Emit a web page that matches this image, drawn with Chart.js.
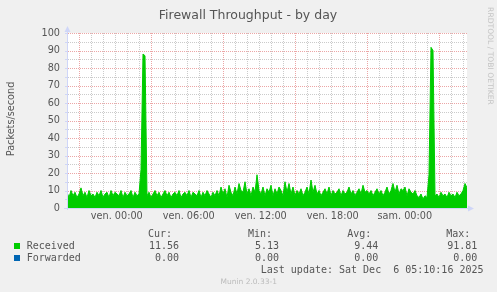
<!DOCTYPE html>
<html>
<head>
<meta charset="utf-8">
<script src="https://cdn.jsdelivr.net/npm/chart.js@4/dist/chart.umd.min.js"></script>
<style>
  body { margin: 0; background: #F0F0F0; }
  #wrap { width: 497px; height: 292px; }
</style>
</head>
<body>
<div id="wrap"><canvas id="munin"></canvas></div>
<script>
// time axis: hours relative to "ven. 00:00", one value every 10 minutes
var startHour = -4.15;
var stepMinutes = 10;
var xLabels = ["ven. 00:00", "ven. 06:00", "ven. 12:00", "ven. 18:00", "sam. 00:00"];
var labelHours = [0, 6, 12, 18, 24];

// packets/second
var received = [
  9, 6, 10, 7, 9, 6, 8, 11.5, 7, 9, 6, 10, 7, 8, 6, 9, 7, 10, 6, 8, 9, 6, 10, 7, 9, 8,
  7, 10, 6, 9, 7, 8, 10, 6, 9, 7, 8,
  22, 88, 87, 7,
  9, 6, 8, 10, 7, 9, 6, 8, 10, 7, 9, 6, 8, 9, 7, 10, 6, 8, 9, 7, 10, 6, 9, 8, 7, 10, 6, 9, 7, 10, 8, 6, 9, 7,
  10, 7, 12, 8, 11, 6, 13, 9, 7, 12, 8, 14, 10, 9, 15, 8, 11, 7, 12, 9, 19, 10, 8, 12, 7, 11,
  9, 13, 7, 11, 8, 12, 10, 7, 15, 9, 14, 8, 12, 7, 10, 8, 11, 7, 9, 12, 8, 16, 9, 13, 8,
  10, 7, 9, 11, 8, 12, 7, 10, 8, 9, 11, 7, 10, 8, 9, 12, 8, 10, 7, 9, 11, 8, 13, 9, 10,
  8, 10, 7, 9, 11, 8, 10, 7, 9, 12, 8, 10, 14, 9, 13, 8, 11, 10, 12, 7, 11, 9, 8, 10, 7,
  6, 8, 5.13, 7, 6,
  19, 91.81, 90, 7,
  8, 6, 9, 7, 8, 6, 9, 7, 8, 6, 9, 7, 8, 10, 14, 11.56
];
var forwarded = [
  0, 0, 0, 0, 0, 0, 0, 0, 0, 0, 0, 0, 0, 0, 0, 0, 0, 0, 0, 0, 0, 0, 0, 0, 0, 0, 0, 0, 0, 0, 0, 0, 0, 0, 0, 0, 0, 0, 0, 0,
  0, 0, 0, 0, 0, 0, 0, 0, 0, 0, 0, 0, 0, 0, 0, 0, 0, 0, 0, 0, 0, 0, 0, 0, 0, 0, 0, 0, 0, 0, 0, 0, 0, 0, 0, 0, 0, 0, 0, 0,
  0, 0, 0, 0, 0, 0, 0, 0, 0, 0, 0, 0, 0, 0, 0, 0, 0, 0, 0, 0, 0, 0, 0, 0, 0, 0, 0, 0, 0, 0, 0, 0, 0, 0, 0, 0, 0, 0, 0, 0,
  0, 0, 0, 0, 0, 0, 0, 0, 0, 0, 0, 0, 0, 0, 0, 0, 0, 0, 0, 0, 0, 0, 0, 0, 0, 0, 0, 0, 0, 0, 0, 0, 0, 0, 0, 0, 0, 0, 0, 0,
  0, 0, 0, 0, 0, 0, 0, 0, 0, 0, 0, 0, 0, 0, 0, 0, 0, 0, 0, 0, 0, 0, 0, 0, 0, 0, 0, 0, 0, 0, 0, 0, 0, 0, 0, 0, 0, 0, 0, 0,
  0
];

// legend table
var statHeaders = ["Cur:", "Min:", "Avg:", "Max:"];
var receivedStats = ["11.56", "5.13", "9.44", "91.81"];
var forwardedStats = ["0.00", "0.00", "0.00", "0.00"];
var lastUpdate = "Last update: Sat Dec  6 05:10:16 2025";

var endHour = startHour + (received.length - 1) * stepMinutes / 60;

function toPoints(values) {
  return values.map(function (v, i) {
    return { x: startHour + i * stepMinutes / 60, y: v };
  });
}

var GREY = "#555555";
var MINOR = "#CBCBCB";
var MAJOR = "#ECA6A6";
var AXIS = "#CFD6F8";

// dotted rrdtool-style grid, 1px on / 1px off
function dotRow(ctx, y, x0, x1) {
  for (var x = x0; x < x1; x += 2) ctx.fillRect(x, y, 1, 1);
}
function dotCol(ctx, x, y0, y1) {
  for (var y = y1; y > y0; y -= 2) ctx.fillRect(x, y, 1, 1);
}

var muninPlugin = {
  id: "munin",
  beforeDraw: function (chart) {
    var ctx = chart.ctx, a = chart.chartArea;
    ctx.save();
    ctx.fillStyle = "#F0F0F0";
    ctx.fillRect(0, 0, chart.width, chart.height);
    ctx.fillStyle = "#FFFFFF";
    ctx.fillRect(a.left, a.top, a.right - a.left, a.bottom - a.top);
    ctx.restore();
  },
  beforeDatasetsDraw: function (chart) {
    var ctx = chart.ctx, a = chart.chartArea;
    var xs = chart.scales.x, ys = chart.scales.y;
    ctx.save();
    // horizontal lines every 5, red every 10
    for (var v = 5; v <= 100; v += 5) {
      var py = Math.round(ys.getPixelForValue(v));
      ctx.fillStyle = v % 10 === 0 ? MAJOR : MINOR;
      dotRow(ctx, py, a.left + 1, a.right);
      ctx.fillStyle = AXIS;
      ctx.fillRect(a.left - 2, py, 2, 1);
    }
    // vertical lines every hour, red every 6 hours
    for (var k = 1; startHour + k <= endHour; k++) {
      var px = Math.round(xs.getPixelForValue(startHour + k));
      ctx.fillStyle = k % 6 === 1 ? MAJOR : MINOR;
      dotCol(ctx, px, a.top - 1, a.bottom - 1);
    }
    ctx.restore();
  },
  afterDraw: function (chart) {
    var ctx = chart.ctx, a = chart.chartArea;
    ctx.save();

    // axes with arrows
    ctx.strokeStyle = AXIS;
    ctx.fillStyle = AXIS;
    ctx.lineWidth = 1;
    ctx.beginPath();
    ctx.moveTo(a.left + 0.5, a.bottom + 2);
    ctx.lineTo(a.left + 0.5, a.top - 3);
    ctx.moveTo(a.left - 3, a.bottom + 0.5);
    ctx.lineTo(a.right + 3, a.bottom + 0.5);
    ctx.stroke();
    ctx.beginPath();
    ctx.moveTo(a.left + 0.5, a.top - 7);
    ctx.lineTo(a.left - 2.5, a.top - 1);
    ctx.lineTo(a.left + 3.5, a.top - 1);
    ctx.fill();
    ctx.beginPath();
    ctx.moveTo(a.right + 7, a.bottom + 0.5);
    ctx.lineTo(a.right + 1, a.bottom - 2.5);
    ctx.lineTo(a.right + 1, a.bottom + 3.5);
    ctx.fill();

    // title
    ctx.fillStyle = GREY;
    ctx.font = '12.5px "DejaVu Sans"';
    ctx.textAlign = "center";
    ctx.textBaseline = "alphabetic";
    ctx.fillText("Firewall Throughput - by day", 248, 18.5);

    // y axis title
    ctx.save();
    ctx.translate(11, 119);
    ctx.rotate(-Math.PI / 2);
    ctx.font = '9.7px "DejaVu Sans"';
    ctx.textBaseline = "middle";
    ctx.fillText("Packets/second", 0, 0);
    ctx.restore();

    // watermark
    ctx.save();
    ctx.translate(490, 56);
    ctx.rotate(Math.PI / 2);
    ctx.fillStyle = "#C4C4C4";
    ctx.font = '7.6px "DejaVu Sans"';
    ctx.textBaseline = "middle";
    ctx.fillText("RRDTOOL / TOBI OETIKER", 0, 0);
    ctx.restore();

    // legend
    var colRight = [179, 279, 378.3, 477.3];
    ctx.font = '10px "DejaVu Sans Mono"';
    ctx.fillStyle = GREY;
    ctx.textAlign = "right";
    statHeaders.forEach(function (h, i) {
      ctx.fillText(h, colRight[i] - 7, 236.7);
    });
    receivedStats.forEach(function (s, i) {
      ctx.fillText(s, colRight[i], 249);
    });
    forwardedStats.forEach(function (s, i) {
      ctx.fillText(s, colRight[i], 261);
    });
    ctx.fillText(lastUpdate, 483.5, 273.3);
    ctx.textAlign = "left";
    ctx.fillText("Received", 26.7, 249);
    ctx.fillText("Forwarded", 26.7, 261);
    ctx.fillStyle = "#00CC00";
    ctx.fillRect(14, 243, 6, 6);
    ctx.fillStyle = "#0066B3";
    ctx.fillRect(14, 255, 6, 6);

    ctx.fillStyle = "#BBBBBB";
    ctx.font = '7.5px "DejaVu Sans"';
    ctx.textAlign = "center";
    ctx.fillText("Munin 2.0.33-1", 248.7, 284.3);
    ctx.restore();
  }
};

Chart.defaults.font.family = '"DejaVu Sans"';

var ctx = document.getElementById("munin").getContext("2d");
var muninChart = new Chart(ctx, {
  type: "line",
  data: {
    datasets: [
      {
        label: "Received",
        data: toPoints(received),
        backgroundColor: "#00CC00",
        borderColor: "#00CC00",
        borderWidth: 1,
        fill: "origin",
        pointRadius: 0,
        tension: 0,
      },
      {
        label: "Forwarded",
        data: toPoints(forwarded),
        backgroundColor: "#0066B3",
        borderColor: "#0066B3",
        borderWidth: 0,
        fill: "origin",
        pointRadius: 0,
      },
    ],
  },
  options: {
    responsive: true,
    maintainAspectRatio: false,
    animation: false,
    events: [],
    layout: { padding: { left: 0, right: 30, top: 33, bottom: 68 } },
    plugins: { legend: { display: false }, tooltip: { enabled: false } },
    scales: {
      x: {
        type: "linear",
        min: startHour,
        max: endHour,
        border: { display: false },
        grid: { display: false, drawTicks: false },
        ticks: { display: false },
        afterFit: function (s) { s.height = 0; },
      },
      x2: {
        type: "linear",
        position: "bottom",
        min: startHour,
        max: endHour,
        border: { display: false },
        grid: { display: false, drawTicks: false },
        ticks: {
          autoSkip: false,
          maxRotation: 0,
          padding: 3,
          color: GREY,
          font: { size: 9.7 },
          callback: function (v, i) { return xLabels[i]; },
        },
        afterBuildTicks: function (s) {
          s.ticks = labelHours.map(function (h) { return { value: h }; });
        },
        afterFit: function (s) { s.height = 16; },
      },
      y: {
        min: 0,
        max: 100,
        border: { display: false },
        grid: { display: false, drawTicks: false },
        ticks: {
          stepSize: 10,
          autoSkip: false,
          padding: 7,
          color: GREY,
          font: { size: 9.7 },
        },
        afterFit: function (s) { s.width = 67; },
      },
    },
  },
  plugins: [muninPlugin],
});
</script>
</body>
</html>
